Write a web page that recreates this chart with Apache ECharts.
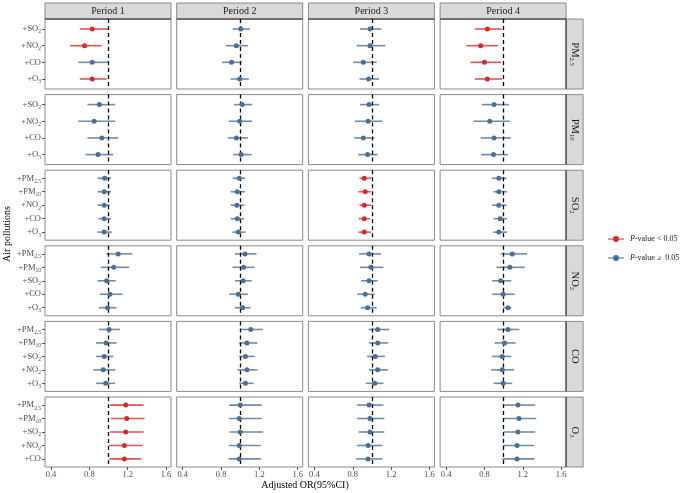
<!DOCTYPE html>
<html><head><meta charset="utf-8">
<script src="https://cdn.jsdelivr.net/npm/echarts@6/dist/echarts.min.js"></script>
<style>html,body{margin:0;padding:0;background:#fff}#c{width:683px;height:493px}</style>
</head><body><div id="c"></div>
<script>
// ---------- data ----------
const periods = ['Period 1', 'Period 2', 'Period 3', 'Period 4'];
const outcomes = ['PM2.5', 'PM10', 'SO2', 'NO2', 'CO', 'O3'];
const xTicks = [0.4, 0.8, 1.2, 1.6];

const adj_PM25 = ['+SO2', '+NO2', '+CO', '+O3'];
const adj_PM10 = ['+SO2', '+NO2', '+CO', '+O3'];
const adj_SO2 = ['+PM2.5', '+PM10', '+NO2', '+CO', '+O3'];
const adj_NO2 = ['+PM2.5', '+PM10', '+SO2', '+CO', '+O3'];
const adj_CO = ['+PM2.5', '+PM10', '+SO2', '+NO2', '+O3'];
const adj_O3 = ['+PM2.5', '+PM10', '+SO2', '+NO2', '+CO'];

// OR estimates per period (rows: Period 1..4)
const or_PM25 = [[0.83, 0.75, 0.83, 0.83], [1.005, 0.96, 0.91, 0.995], [0.98, 0.98, 0.91, 0.965], [0.83, 0.76, 0.80, 0.83]];
const lo_PM25 = [[0.70, 0.60, 0.685, 0.70], [0.92, 0.85, 0.81, 0.90], [0.875, 0.84, 0.805, 0.87], [0.70, 0.61, 0.655, 0.70]];
const hi_PM25 = [[0.995, 0.93, 1.0, 0.98], [1.10, 1.08, 1.015, 1.09], [1.10, 1.14, 1.05, 1.075], [0.98, 0.94, 0.975, 0.985]];
const sig_PM25 = [[1, 1, 0, 1], [0, 0, 0, 0], [0, 0, 0, 0], [1, 1, 1, 1]];

const or_PM10 = [[0.905, 0.85, 0.93, 0.89], [1.02, 0.995, 0.96, 1.01], [0.97, 0.96, 0.91, 0.955], [0.90, 0.855, 0.90, 0.895]];
const lo_PM10 = [[0.78, 0.685, 0.78, 0.76], [0.935, 0.88, 0.87, 0.925], [0.875, 0.82, 0.815, 0.855], [0.775, 0.685, 0.76, 0.765]];
const hi_PM10 = [[1.07, 1.07, 1.10, 1.05], [1.125, 1.125, 1.08, 1.12], [1.075, 1.11, 1.025, 1.06], [1.055, 1.065, 1.075, 1.045]];
const sig_PM10 = [[0, 0, 0, 0], [0, 0, 0, 0], [0, 0, 0, 0], [0, 0, 0, 0]];

const or_SO2 = [[0.96, 0.955, 0.955, 0.955, 0.955], [0.99, 0.97, 0.965, 0.97, 0.98], [0.92, 0.93, 0.92, 0.92, 0.92], [0.95, 0.95, 0.95, 0.965, 0.95]];
const lo_SO2 = [[0.885, 0.885, 0.885, 0.895, 0.885], [0.92, 0.90, 0.90, 0.90, 0.92], [0.87, 0.86, 0.87, 0.86, 0.86], [0.88, 0.895, 0.88, 0.895, 0.89]];
const hi_SO2 = [[1.025, 1.025, 1.01, 1.025, 1.035], [1.05, 1.05, 1.045, 1.04, 1.055], [0.995, 0.99, 0.99, 0.98, 0.99], [1.03, 1.035, 1.03, 1.035, 1.035]];
const sig_SO2 = [[0, 0, 0, 0, 0], [0, 0, 0, 0, 0], [1, 1, 1, 1, 1], [0, 0, 0, 0, 0]];

const or_NO2 = [[1.10, 1.055, 0.98, 1.015, 0.99], [1.05, 1.035, 1.03, 0.98, 1.025], [0.97, 0.99, 0.97, 0.93, 0.955], [1.09, 1.065, 0.97, 0.995, 1.045]];
const lo_NO2 = [[0.975, 0.92, 0.885, 0.91, 0.90], [0.945, 0.92, 0.945, 0.885, 0.945], [0.865, 0.875, 0.885, 0.845, 0.885], [0.97, 0.925, 0.88, 0.88, 0.995]];
const hi_NO2 = [[1.25, 1.215, 1.075, 1.145, 1.085], [1.17, 1.15, 1.12, 1.08, 1.11], [1.095, 1.12, 1.06, 1.03, 1.05], [1.245, 1.22, 1.08, 1.115, 1.08]];
const sig_NO2 = [[0, 0, 0, 0, 0], [0, 0, 0, 0, 0], [0, 0, 0, 0, 0], [0, 0, 0, 0, 0]];

const or_CO = [[1.005, 0.975, 0.955, 0.945, 0.97], [1.11, 1.07, 1.055, 1.07, 1.055], [1.06, 1.06, 1.035, 1.06, 1.03], [1.045, 1.01, 0.985, 0.985, 0.995]];
const lo_CO = [[0.90, 0.87, 0.87, 0.84, 0.87], [1.0, 0.99, 0.99, 0.97, 0.99], [0.965, 0.97, 0.95, 0.97, 0.935], [0.935, 0.905, 0.88, 0.87, 0.895]];
const hi_CO = [[1.12, 1.085, 1.05, 1.07, 1.07], [1.235, 1.18, 1.15, 1.18, 1.14], [1.18, 1.17, 1.135, 1.17, 1.12], [1.165, 1.125, 1.08, 1.11, 1.09]];
const sig_CO = [[0, 0, 0, 0, 0], [0, 0, 0, 0, 0], [0, 0, 0, 0, 0], [0, 0, 0, 0, 0]];

const or_O3 = [[1.18, 1.19, 1.18, 1.165, 1.165], [1.0, 0.99, 1.0, 0.99, 0.99], [0.97, 0.98, 0.98, 0.96, 0.96], [1.15, 1.16, 1.15, 1.14, 1.14]];
const lo_O3 = [[1.015, 1.025, 1.015, 1.005, 1.01], [0.885, 0.88, 0.89, 0.88, 0.88], [0.845, 0.845, 0.86, 0.845, 0.835], [1.005, 1.005, 1.0, 0.99, 0.985]];
const hi_O3 = [[1.365, 1.375, 1.365, 1.355, 1.34], [1.225, 1.225, 1.24, 1.215, 1.215], [1.12, 1.13, 1.13, 1.11, 1.11], [1.33, 1.34, 1.33, 1.32, 1.32]];
const sig_O3 = [[1, 1, 1, 1, 1], [0, 0, 0, 0, 0], [0, 0, 0, 0, 0], [0, 0, 0, 0, 0]];

// ---------- assembly ----------
const rowsDef = [
  [adj_PM25, or_PM25, lo_PM25, hi_PM25, sig_PM25],
  [adj_PM10, or_PM10, lo_PM10, hi_PM10, sig_PM10],
  [adj_SO2, or_SO2, lo_SO2, hi_SO2, sig_SO2],
  [adj_NO2, or_NO2, lo_NO2, hi_NO2, sig_NO2],
  [adj_CO, or_CO, lo_CO, hi_CO, sig_CO],
  [adj_O3, or_O3, lo_O3, hi_O3, sig_O3]
];

const FONT = "'Liberation Serif','Times New Roman',serif";
const RED = '#D52A2C', BLUE = '#4A6F98';
const RED_L = 'rgba(213,42,44,0.8)', BLUE_L = 'rgba(74,111,152,0.8)';
const L0 = 45, PW = 126, GX = 5.7, T0 = 19, PH = 70, GY = 5.6;
const XMIN = 0.337, XMAX = 1.652;

// subscript rich text
function rich(label) {
  const m = label.match(/^(\+?[A-Za-z]+)([0-9.]*)$/);
  if (!m) return '{n|' + label + '}';
  return '{n|' + m[1] + '}' + (m[2] ? '{s|' + m[2] + '}' : '');
}
const richStyle = {
  n: {fontFamily: FONT, fontSize: 8.5, color: '#4d4d4d', verticalAlign: 'middle', lineHeight: 12},
  s: {fontFamily: FONT, fontSize: 5.5, color: '#4d4d4d', verticalAlign: 'bottom', lineHeight: 10}
};

const grids = [], xAxes = [], yAxes = [], series = [], graphics = [];
rowsDef.forEach((rd, r) => {
  const cats = rd[0];
  const n = cats.length;
  periods.forEach((p, c) => {
    const k = r * 4 + c;
    const left = L0 + c * (PW + GX), top = T0 + r * (PH + GY);
    grids.push({left: left, top: top, width: PW, height: PH, show: true,
      borderColor: '#8a8a8a', borderWidth: 1, backgroundColor: '#fff', containLabel: false});
    xAxes.push({type: 'value', gridIndex: k, min: XMIN, max: XMAX, position: 'bottom',
      axisLine: {show: false, onZero: false}, splitLine: {show: false},
      axisTick: {show: r === 5, length: 3, lineStyle: {color: '#555'}, customValues: xTicks},
      axisLabel: {show: r === 5, customValues: xTicks, margin: 3, fontFamily: FONT, fontSize: 8.5, color: '#4d4d4d',
        formatter: v => v.toFixed(1)}});
    const yIdx = cats.map((_, i) => i);
    yAxes.push({type: 'value', gridIndex: k, inverse: true, min: -0.6, max: n - 0.4, position: 'left',
      axisLine: {show: false, onZero: false}, splitLine: {show: false},
      axisTick: {show: c === 0, length: 3, lineStyle: {color: '#555'}, customValues: yIdx},
      axisLabel: {show: c === 0, customValues: yIdx, margin: 4,
        formatter: v => rich(cats[Math.round(v)]), rich: richStyle}});
    const est = rd[1][c], lo = rd[2][c], hi = rd[3][c], sg = rd[4][c];
    // CI lines
    series.push({type: 'custom', xAxisIndex: k, yAxisIndex: k, z: 2,
      data: cats.map((_, i) => [lo[i], hi[i], i, sg[i]]),
      encode: {x: [0, 1], y: 2},
      renderItem: (params, api) => {
        const a = api.coord([api.value(0), api.value(2)]);
        const b = api.coord([api.value(1), api.value(2)]);
        return {type: 'line', shape: {x1: a[0], y1: a[1], x2: b[0], y2: b[1]},
          style: {stroke: api.value(3) ? RED_L : BLUE_L, lineWidth: 1.6}};
      },
      markLine: {silent: true, symbol: 'none', z: 5, label: {show: false},
        lineStyle: {color: '#000', type: [4, 3], width: 1.3}, data: [{xAxis: 1}]},
      silent: true
    });
    // points
    series.push({type: 'scatter', name: 'sig', xAxisIndex: k, yAxisIndex: k, z: 10, symbolSize: 5,
      itemStyle: {color: RED, opacity: 1},
      data: cats.map((_, i) => sg[i] ? [est[i], i] : null).filter(d => d)});
    series.push({type: 'scatter', name: 'ns', xAxisIndex: k, yAxisIndex: k, z: 10, symbolSize: 5,
      itemStyle: {color: BLUE, opacity: 1},
      data: cats.map((_, i) => !sg[i] ? [est[i], i] : null).filter(d => d)});
    // top strips
    if (r === 0) {
      graphics.push({type: 'rect', shape: {x: left, y: 3, width: PW, height: 16},
        style: {fill: '#d9d9d9', stroke: '#8a8a8a', lineWidth: 1}});
      graphics.push({type: 'line', shape: {x1: left, y1: 19, x2: left + PW, y2: 19}, style: {stroke: '#333', lineWidth: 1}});
      graphics.push({type: 'text', x: left + PW / 2, y: 11.5,
        style: {text: p, fontFamily: FONT, fontSize: 10, fill: '#1a1a1a', align: 'center', verticalAlign: 'middle'}});
    }
    // right strips
    if (c === 3) {
      const sx = left + PW;
      graphics.push({type: 'rect', shape: {x: sx, y: top, width: 17, height: PH},
        style: {fill: '#d9d9d9', stroke: '#8a8a8a', lineWidth: 1}});
      graphics.push({type: 'line', shape: {x1: sx, y1: top, x2: sx, y2: top + PH}, style: {stroke: '#333', lineWidth: 1}});
      graphics.push({type: 'text', x: sx + 9, y: top + PH / 2, rotation: -Math.PI / 2,
        style: {text: rich(outcomes[r]), align: 'center', verticalAlign: 'middle',
          rich: {n: {fontFamily: FONT, fontSize: 10.5, fill: '#1a1a1a', verticalAlign: 'middle', lineHeight: 14},
                 s: {fontFamily: FONT, fontSize: 6.5, fill: '#1a1a1a', verticalAlign: 'bottom', lineHeight: 12}}}});
    }
  });
});

// axis titles
graphics.push({type: 'text', x: 305, y: 485,
  style: {text: 'Adjusted OR(95%CI)', fontFamily: FONT, fontSize: 10, fill: '#000', align: 'center', verticalAlign: 'middle'}});
graphics.push({type: 'text', x: 7, y: 234, rotation: Math.PI / 2,
  style: {text: 'Air pollutions', fontFamily: FONT, fontSize: 10, fill: '#000', align: 'center', verticalAlign: 'middle'}});

const legendNames = {sig: '{i|P}{t|-value < 0.05}', ns: '{i|P}{t|-value ≥  0.05}'};
const chart = echarts.init(document.getElementById('c'), null, {renderer: 'canvas'});
chart.setOption({
  animation: false,
  grid: grids, xAxis: xAxes, yAxis: yAxes, series: series,
  graphic: {elements: graphics},
  legend: {data: ['sig', 'ns'], orient: 'vertical', left: 608, top: 235, padding: 0, itemWidth: 16, itemHeight: 7, itemGap: 11,
    icon: 'path://M0,2.9H16V4.1H0Z M11,3.5A3,3,0,1,1,5,3.5A3,3,0,1,1,11,3.5Z',
    formatter: nm => legendNames[nm], selectedMode: false,
    textStyle: {padding: [0, 0, 0, 1], rich: {i: {fontFamily: FONT, fontSize: 8, fontStyle: 'italic', color: '#1a1a1a'},
                       t: {fontFamily: FONT, fontSize: 8, color: '#1a1a1a'}}}}
});
</script></body></html>
